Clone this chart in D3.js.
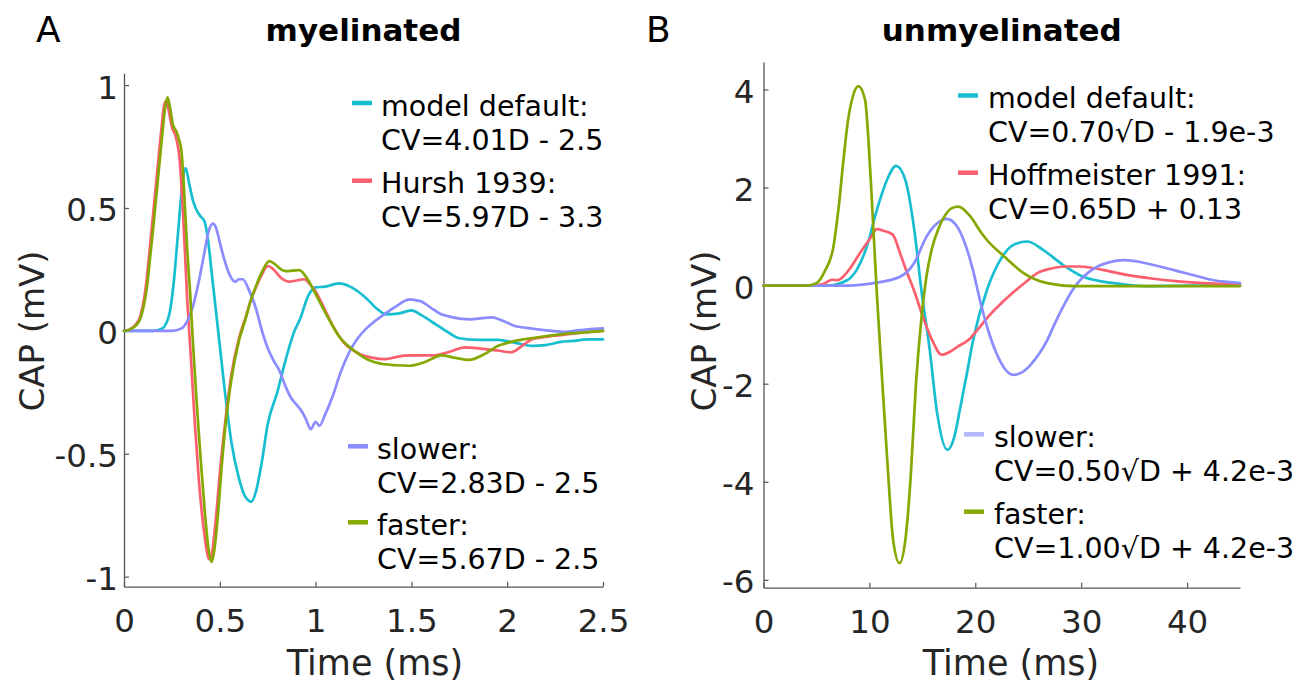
<!DOCTYPE html>
<html>
<head>
<meta charset="utf-8">
<script src="https://cdn.jsdelivr.net/npm/d3@7"></script>
<style>
  html, body { margin: 0; padding: 0; background: #fff; }
  svg { display: block; font-family: "DejaVu Sans", Verdana, sans-serif; }
</style>
</head>
<body>
<svg id="chart" width="1313" height="685"></svg>
<script>
// ---------------- Panel A (myelinated) data ----------------
const tA_default = [0,0.15,0.2,0.22,0.24,0.26,0.28,0.3,0.322,0.34,0.36,0.378,0.4,0.42,0.44,0.46,0.48,0.5,0.53,0.56,0.6,0.63,0.665,0.69,0.72,0.75,0.8,0.85,0.89,0.92,0.96,1.0,1.05,1.12,1.18,1.26,1.32,1.37,1.43,1.5,1.55,1.61,1.68,1.75,1.85,1.95,2.05,2.13,2.2,2.28,2.34,2.42,2.5];
const vA_default = [0,0,0.01,0.03,0.08,0.2,0.38,0.56,0.662,0.6,0.53,0.493,0.465,0.446,0.36,0.22,0.08,-0.06,-0.27,-0.45,-0.6,-0.67,-0.695,-0.65,-0.53,-0.38,-0.25,-0.1,0.0,0.05,0.14,0.177,0.18,0.193,0.18,0.136,0.09,0.067,0.07,0.083,0.065,0.035,0.0,-0.03,-0.037,-0.037,-0.05,-0.061,-0.058,-0.045,-0.041,-0.035,-0.035];

const tA_hursh = [0,0.03,0.06,0.083,0.1,0.12,0.135,0.15,0.17,0.195,0.21,0.22,0.235,0.25,0.27,0.29,0.31,0.33,0.35,0.37,0.39,0.42,0.445,0.46,0.48,0.5,0.53,0.56,0.6,0.637,0.66,0.69,0.72,0.75,0.78,0.82,0.862,0.9,0.94,0.97,1.0,1.04,1.09,1.15,1.22,1.3,1.365,1.43,1.49,1.55,1.61,1.7,1.78,1.86,1.95,2.02,2.08,2.13,2.25,2.35,2.5];
const vA_hursh = [0,0.006,0.025,0.055,0.11,0.22,0.34,0.46,0.62,0.82,0.92,0.935,0.89,0.83,0.79,0.7,0.45,0.128,-0.12,-0.38,-0.6,-0.83,-0.93,-0.9,-0.76,-0.58,-0.36,-0.18,-0.03,0.06,0.12,0.18,0.23,0.264,0.25,0.215,0.2,0.205,0.21,0.19,0.16,0.1,0.02,-0.05,-0.09,-0.11,-0.115,-0.105,-0.1,-0.1,-0.1,-0.085,-0.067,-0.072,-0.08,-0.087,-0.06,-0.034,-0.02,-0.01,0];

const tA_slower = [0,0.25,0.3,0.33,0.36,0.39,0.42,0.44,0.464,0.48,0.5,0.52,0.551,0.58,0.6,0.62,0.65,0.69,0.72,0.75,0.78,0.81,0.84,0.87,0.9,0.93,0.95,0.975,1.0,1.02,1.05,1.09,1.13,1.175,1.22,1.26,1.31,1.37,1.43,1.46,1.49,1.52,1.55,1.6,1.65,1.69,1.75,1.81,1.87,1.92,1.98,2.04,2.1,2.16,2.23,2.3,2.38,2.47,2.5];
const vA_slower = [0,0,0.01,0.04,0.1,0.2,0.32,0.4,0.436,0.42,0.36,0.3,0.229,0.2,0.21,0.21,0.17,0.088,0.0,-0.07,-0.12,-0.16,-0.22,-0.27,-0.3,-0.33,-0.36,-0.4,-0.37,-0.386,-0.34,-0.264,-0.17,-0.088,-0.03,0.006,0.04,0.074,0.105,0.12,0.128,0.125,0.12,0.095,0.07,0.06,0.05,0.047,0.052,0.055,0.04,0.02,0.012,0.006,0.0,-0.004,0.003,0.009,0.01];

const tA_faster = [0,0.03,0.06,0.083,0.1,0.12,0.135,0.15,0.17,0.195,0.215,0.227,0.24,0.255,0.274,0.29,0.3,0.315,0.33,0.345,0.36,0.38,0.4,0.42,0.44,0.457,0.47,0.49,0.51,0.53,0.56,0.6,0.637,0.66,0.689,0.72,0.759,0.79,0.82,0.845,0.88,0.915,0.95,0.98,1.02,1.07,1.12,1.2,1.28,1.35,1.42,1.49,1.56,1.66,1.73,1.8,1.88,1.95,2.02,2.09,2.2,2.3,2.4,2.5];
const vA_faster = [0,0.005,0.02,0.045,0.09,0.18,0.29,0.4,0.56,0.76,0.91,0.95,0.91,0.84,0.81,0.77,0.73,0.55,0.33,0.156,-0.05,-0.3,-0.52,-0.72,-0.88,-0.94,-0.9,-0.75,-0.55,-0.38,-0.2,-0.04,0.055,0.12,0.182,0.24,0.284,0.27,0.25,0.243,0.245,0.247,0.22,0.18,0.12,0.047,-0.02,-0.08,-0.12,-0.135,-0.14,-0.142,-0.13,-0.1,-0.11,-0.118,-0.095,-0.062,-0.045,-0.034,-0.022,-0.012,-0.006,0];

// ---------------- Panel B (unmyelinated) data ----------------
const tB_default = [0,6,7.9,8.8,9.75,10.7,11.65,12.52,13.4,14.2,14.95,15.7,16.4,17.37,18.0,18.6,19.2,19.8,21.1,22.35,23.6,24.9,26.4,28.3,30.2,33.1,36.2,40,45];
const vB_default = [0,0,0.11,0.32,0.79,1.54,2.15,2.44,2.15,1.2,-0.16,-1.31,-2.6,-3.35,-3.1,-2.47,-1.8,-1.11,-0.09,0.52,0.83,0.9,0.73,0.42,0.18,0.05,-0.01,0,0];

const tB_hoff = [0,5,5.7,6.5,7.0,7.6,8.1,9.1,10.1,10.7,11.3,12.2,12.9,13.5,14.2,15.0,15.9,16.84,17.6,18.3,19.4,20.4,21.4,22.5,23.7,24.8,25.9,27.2,28.5,29.8,31.1,32.7,34.3,36.5,38.9,41.5,45];
const vB_hoff = [0,0,0.04,0.12,0.11,0.2,0.33,0.66,0.97,1.15,1.12,1.04,0.66,0.3,-0.09,-0.6,-1.1,-1.41,-1.35,-1.25,-1.1,-0.85,-0.59,-0.35,-0.115,0.08,0.26,0.35,0.39,0.39,0.36,0.29,0.22,0.15,0.09,0.05,0.02];

const tB_slower = [0,8,10.4,12.9,14.2,15.4,16.4,17.3,18.3,18.9,19.2,19.8,20.5,21.2,22.0,22.8,23.6,24.4,25.2,26.0,26.8,27.5,28.3,29.1,29.9,30.7,31.5,32.7,34.0,35.1,36.2,37.8,39.4,41,42.5,43.8,45];
const vB_slower = [0,0,0.05,0.18,0.45,1.0,1.27,1.36,1.2,0.93,0.75,0.3,-0.35,-0.9,-1.38,-1.7,-1.82,-1.77,-1.62,-1.4,-1.11,-0.78,-0.43,-0.12,0.11,0.27,0.385,0.48,0.52,0.5,0.45,0.37,0.28,0.19,0.11,0.075,0.05];

const tB_faster = [0,4,5,5.8,6.6,7.1,7.55,8.0,8.34,8.96,9.6,9.9,10.2,10.7,11.2,11.7,12.24,12.84,13.4,13.9,14.4,14.9,15.4,15.9,16.5,17.2,17.8,18.4,19.5,20.5,21.1,22.7,24.6,26.8,29.3,35,45];
const vB_faster = [0,0,0.05,0.3,0.79,1.6,2.56,3.4,3.78,4.07,3.78,3.0,1.88,-0.15,-1.9,-3.6,-5.18,-5.66,-5.18,-3.9,-2.0,-0.7,0.2,0.75,1.15,1.45,1.58,1.61,1.42,1.1,0.93,0.6,0.25,0.05,-0.01,-0.01,-0.01];

// ---------------- Ticks & labels ----------------
const xTicksA = [0, 0.5, 1, 1.5, 2, 2.5];
const xTickLabelsA = ["0", "0.5", "1", "1.5", "2", "2.5"];
const yTicksA = [-1, -0.5, 0, 0.5, 1];
const yTickLabelsA = ["-1", "-0.5", "0", "0.5", "1"];
const xTicksB = [0, 10, 20, 30, 40];
const xTickLabelsB = ["0", "10", "20", "30", "40"];
const yTicksB = [-6, -4, -2, 0, 2, 4];
const yTickLabelsB = ["-6", "-4", "-2", "0", "2", "4"];

const legendA_top = [["model default:", "CV=4.01D - 2.5"], ["Hursh 1939:", "CV=5.97D - 3.3"]];
const legendA_bot = [["slower:", "CV=2.83D - 2.5"], ["faster:", "CV=5.67D - 2.5"]];
const legendB_top = [["model default:", "CV=0.70\u221AD - 1.9e-3"], ["Hoffmeister 1991:", "CV=0.65D + 0.13"]];
const legendB_bot = [["slower:", "CV=0.50\u221AD + 4.2e-3"], ["faster:", "CV=1.00\u221AD + 4.2e-3"]];

const colors = { cyan: "#17bed0", red: "#fb5f6e", blue: "#8a8cff", blueLight: "#b3b6ff", green: "#84a800" };
const textColor = "#262626";
const axisColor = "#555";

// ---------------- Drawing ----------------
const svg = d3.select("#chart");
svg.append("rect").attr("width", 1313).attr("height", 685).attr("fill", "#fff");

function drawPanel(cfg) {
  const g = svg.append("g");
  const x = d3.scaleLinear().domain(cfg.xDomain).range(cfg.xRange);
  const y = d3.scaleLinear().domain(cfg.yDomain).range(cfg.yRange);

  // x axis (ticks inward)
  const xAxis = d3.axisBottom(x).tickValues(cfg.xTicks)
    .tickFormat((d, i) => cfg.xTickLabels[i]).tickSizeInner(-5).tickSizeOuter(0);
  const gx = g.append("g").attr("transform", `translate(0,${cfg.yRange[0]})`).call(xAxis);
  gx.select(".domain").attr("stroke", axisColor).attr("stroke-width", 1.3);
  gx.selectAll(".tick line").attr("stroke", axisColor).attr("stroke-width", 1.2);
  gx.selectAll(".tick text").attr("y", 45.5).attr("dy", null)
    .attr("font-size", 32.5).attr("fill", textColor).attr("font-family", "DejaVu Sans");

  // y axis (ticks inward)
  const yAxis = d3.axisLeft(y).tickValues(cfg.yTicks)
    .tickFormat((d, i) => cfg.yTickLabels[i]).tickSizeInner(-5).tickSizeOuter(0);
  const gy = g.append("g").attr("transform", `translate(${cfg.xRange[0]},0)`).call(yAxis);
  gy.select(".domain").attr("stroke", axisColor).attr("stroke-width", 1.3);
  gy.selectAll(".tick line").attr("stroke", axisColor).attr("stroke-width", 1.2);
  gy.selectAll(".tick text").attr("x", cfg.yLabelGap).attr("dy", "0.4em")
    .attr("font-size", 32.5).attr("fill", textColor).attr("font-family", "DejaVu Sans");

  // axis labels
  g.append("text").attr("x", cfg.xLabelX).attr("y", 675).attr("text-anchor", "middle")
    .attr("font-size", 35).attr("fill", textColor).text("Time (ms)");
  g.append("text").attr("transform", `translate(${cfg.yLabelX},331) rotate(-90)`)
    .attr("text-anchor", "middle").attr("font-size", 34).attr("fill", textColor).text("CAP (mV)");

  // title & panel letter
  g.append("text").attr("x", (cfg.xRange[0] + cfg.xRange[1]) / 2).attr("y", 41)
    .attr("text-anchor", "middle").attr("font-size", 31).attr("font-weight", "bold")
    .attr("fill", "#000").text(cfg.title);
  g.append("text").attr("x", cfg.letterX).attr("y", 42).attr("font-size", 36)
    .attr("fill", "#000").text(cfg.letter);

  // curves
  const line = d3.line().x(d => x(d[0])).y(d => y(d[1])).curve(d3.curveMonotoneX);
  cfg.series.forEach(s => {
    const pts = s.t.map((t, i) => [t, s.v[i]]);
    g.append("path").datum(pts).attr("d", line).attr("fill", "none")
      .attr("stroke", s.color).attr("stroke-width", 2.7)
      .attr("stroke-linejoin", "round").attr("stroke-linecap", "round");
  });

  // legends
  cfg.legends.forEach(L => {
    L.items.forEach((item, i) => {
      const top = L.y[i];
      g.append("line").attr("x1", L.swX).attr("x2", L.swX + 20).attr("y1", top).attr("y2", top)
        .attr("stroke", L.colors[i]).attr("stroke-width", 4.5);
      g.append("text").attr("x", L.textX).attr("y", top + 12.5).attr("font-size", 28.5)
        .attr("fill", "#000").text(item[0]);
      g.append("text").attr("x", L.textX).attr("y", top + 46.5).attr("font-size", 28.5)
        .attr("fill", "#000").text(item[1]);
    });
  });
}

drawPanel({
  xDomain: [0, 2.5], xRange: [124, 603],
  yDomain: [-1.041, 1.048], yRange: [586.7, 73.3],
  xTicks: xTicksA, xTickLabels: xTickLabelsA, yTicks: yTicksA, yTickLabels: yTickLabelsA,
  yLabelGap: -6, xLabelX: 375, yLabelX: 44,
  title: "myelinated", letter: "A", letterX: 36,
  series: [
    { t: tA_default, v: vA_default, color: colors.cyan },
    { t: tA_hursh, v: vA_hursh, color: colors.red },
    { t: tA_slower, v: vA_slower, color: colors.blue },
    { t: tA_faster, v: vA_faster, color: colors.green }
  ],
  legends: [
    { items: legendA_top, y: [103, 180.7], swX: 352, textX: 381, colors: [colors.cyan, colors.red] },
    { items: legendA_bot, y: [446.3, 522.3], swX: 348, textX: 377, colors: [colors.blue, colors.green] }
  ]
});

drawPanel({
  xDomain: [0, 45], xRange: [763.5, 1240],
  yDomain: [-6.16, 4.56], yRange: [587.7, 62],
  xTicks: xTicksB, xTickLabels: xTickLabelsB, yTicks: yTicksB, yTickLabels: yTickLabelsB,
  yLabelGap: -9, xLabelX: 1011, yLabelX: 716,
  title: "unmyelinated", letter: "B", letterX: 646,
  series: [
    { t: tB_default, v: vB_default, color: colors.cyan },
    { t: tB_hoff, v: vB_hoff, color: colors.red },
    { t: tB_slower, v: vB_slower, color: colors.blue },
    { t: tB_faster, v: vB_faster, color: colors.green }
  ],
  legends: [
    { items: legendB_top, y: [95.5, 172.7], swX: 958, textX: 988, colors: [colors.cyan, colors.red] },
    { items: legendB_bot, y: [434.3, 511.7], swX: 964, textX: 994, colors: [colors.blueLight, colors.green] }
  ]
});
</script>
</body>
</html>
